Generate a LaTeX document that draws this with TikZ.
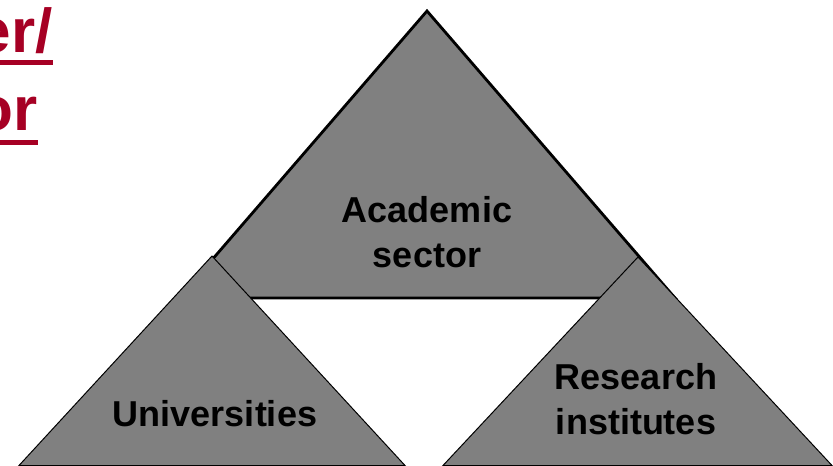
\documentclass[tikz,border=0pt]{standalone}
\usepackage{fontspec}
\setmainfont{Liberation Sans}
\usepackage{tikz}
\usetikzlibrary{positioning}
\definecolor{TitleRed}{RGB}{166,0,36}
\definecolor{SectorGray}{RGB}{128,128,128}

\begin{document}
\begin{tikzpicture}[x=1pt, y=-1pt,
    bigtri/.style={draw=black, line width=2.8pt, fill=SectorGray, line join=miter},
    smalltri/.style={draw=black, line width=1pt, fill=SectorGray, line join=miter},
    label/.style={font=\fontsize{36}{44.5}\selectfont\bfseries, align=center,
        text=black, inner sep=0pt},
    title/.style={font=\fontsize{62}{78}\selectfont\bfseries, text=TitleRed,
        inner sep=0pt, anchor=base east},
    titleline/.style={draw=TitleRed, line width=5pt},
]
\clip (0,0) rectangle (833,466);

% title, cut at the left edge
\node[title] (t1) at (53,52) {er/};
\node[title] (t2) at (38,130) {or};
\draw[titleline] ([yshift=-10.5pt]t1.base west) -- ([yshift=-10.5pt]t1.base east);
\draw[titleline] ([yshift=-12.5pt]t2.base west) -- ([yshift=-12.5pt]t2.base east);

% triangles
\path[bigtri] (427,11) -- (675,298) -- (179,298) -- cycle;
\path[smalltri] (212,256) -- (405,465.5) -- (19,465.5) -- cycle;
\path[smalltri] (638,257) -- (832,465.5) -- (443,465.5) -- cycle;

\node[label] (acad) at (427,232) {Academic\\sector};
\node[label] (univ) at (215,414) {Universities};
\node[label] (inst) at (636,399) {Research\\institutes};
\end{tikzpicture}
\end{document}
